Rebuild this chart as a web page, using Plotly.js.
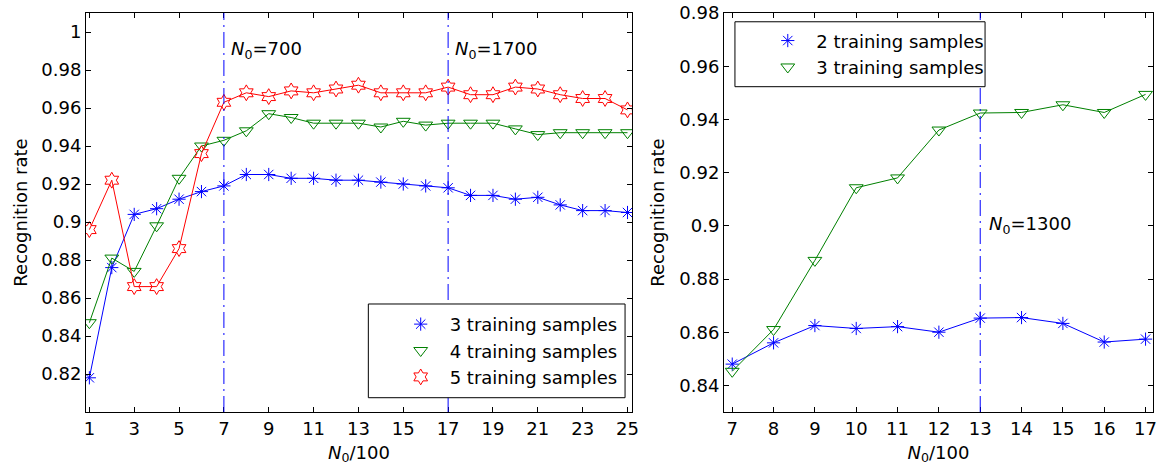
<!DOCTYPE html>
<html>
<head>
<meta charset="utf-8">
<script src="https://cdn.plot.ly/plotly-3.0.1.min.js"></script>
<style>html,body{margin:0;padding:0;background:#fff;}#chart{width:1159px;height:475px;}</style>
</head>
<body>
<div id="chart"></div>
<script>
// Left panel data
var xLeft = [1,2,3,4,5,6,7,8,9,10,11,12,13,14,15,16,17,18,19,20,21,22,23,24,25];
var left3 = [0.818,0.876,0.904,0.907,0.912,0.916,0.919,0.925,0.925,0.923,0.923,0.922,0.922,0.921,0.920,0.919,0.918,0.914,0.914,0.912,0.913,0.909,0.906,0.906,0.905];
var left4 = [0.847,0.881,0.874,0.898,0.923,0.940,0.943,0.948,0.957,0.955,0.952,0.952,0.952,0.950,0.953,0.951,0.952,0.952,0.952,0.949,0.946,0.947,0.947,0.947,0.947];
var left5 = [0.896,0.922,0.866,0.866,0.886,0.936,0.963,0.968,0.966,0.969,0.968,0.970,0.972,0.968,0.968,0.968,0.971,0.967,0.967,0.971,0.970,0.967,0.965,0.965,0.959];
var leftNames = ['3 training samples','4 training samples','5 training samples'];
var leftMarks = [7, 17];
var leftLabels = ['700','1700'];
var leftXTicks = [1,3,5,7,9,11,13,15,17,19,21,23,25];
var leftYTicks = [0.82,0.84,0.86,0.88,0.9,0.92,0.94,0.96,0.98,1];

// Right panel data
var xRight = [7,8,9,10,11,12,13,14,15,16,17];
var right2 = [0.848,0.856,0.8625,0.8614,0.8621,0.860,0.8653,0.8655,0.8633,0.8563,0.8574];
var right3 = [0.8453,0.861,0.887,0.9143,0.918,0.936,0.9424,0.9426,0.9455,0.9426,0.9494];
var rightNames = ['2 training samples','3 training samples'];
var rightMarks = [13];
var rightLabels = ['1300'];
var rightXTicks = [7,8,9,10,11,12,13,14,15,16,17];
var rightYTicks = [0.84,0.86,0.88,0.9,0.92,0.94,0.96,0.98];

var BLUE = 'rgb(0,0,255)', GREEN = 'rgb(0,128,0)', RED = 'rgb(255,0,0)';
var FONT = 'DejaVu Sans, Arial, sans-serif';
var DASHDOT = '16px,5px,2px,5px';

function series(x, y, name, color, symbol, size, xa, ya, legend) {
  return [
    {x: x, y: y, xaxis: xa, yaxis: ya, mode: 'lines', type: 'scatter',
     line: {color: color, width: 1}, showlegend: false, hoverinfo: 'skip'},
    {x: x, y: y, xaxis: xa, yaxis: ya, mode: 'markers', type: 'scatter', name: name,
     marker: {symbol: symbol, size: size, color: color, line: {color: color, width: 1}},
     showlegend: true, legend: legend}
  ];
}

var data = [].concat(
  series(xLeft, left3, leftNames[0], BLUE, 'asterisk-open', 11, 'x', 'y', 'legend'),
  series(xLeft, left4, leftNames[1], GREEN, 'triangle-down-open', 12, 'x', 'y', 'legend'),
  series(xLeft, left5, leftNames[2], RED, 'hexagram-open', 12, 'x', 'y', 'legend'),
  series(xRight, right2, rightNames[0], BLUE, 'asterisk-open', 11, 'x2', 'y2', 'legend2'),
  series(xRight, right3, rightNames[1], GREEN, 'triangle-down-open', 12, 'x2', 'y2', 'legend2')
);

var shapes = [];
var annotations = [];
leftMarks.forEach(function(m, i){
  shapes.push({type:'line', xref:'x', yref:'y domain', x0:m, x1:m, y0:0, y1:1,
    line:{color:BLUE, width:1, dash:DASHDOT}, layer:'above'});
  annotations.push({xref:'x', yref:'y', x:m, y:0.9905, xanchor:'left', yanchor:'middle', xshift:5,
    text:'<i>N</i><sub>0</sub>=' + leftLabels[i], showarrow:false, font:{family:FONT, size:18, color:'#000'}});
});
rightMarks.forEach(function(m, i){
  shapes.push({type:'line', xref:'x2', yref:'y2 domain', x0:m, x1:m, y0:0, y1:1,
    line:{color:BLUE, width:1, dash:DASHDOT}, layer:'above'});
  annotations.push({xref:'x2', yref:'y2', x:m, y:0.9003, xanchor:'left', yanchor:'middle', xshift:7,
    text:'<i>N</i><sub>0</sub>=' + rightLabels[i], showarrow:false, font:{family:FONT, size:18, color:'#000'}});
});
// legend boxes
shapes.push({type:'rect', xref:'paper', yref:'paper', x0:0.2646, x1:0.5052, y0:0.0358, y1:0.2707,
  line:{color:'#000', width:1}, fillcolor:'#fff', layer:'above'});
shapes.push({type:'rect', xref:'paper', yref:'paper', x0:0.6082, x1:0.8426, y0:0.8153, y1:0.978,
  line:{color:'#000', width:1}, fillcolor:'#fff', layer:'above'});

function xax(domain, range, ticks) {
  return {domain: domain, range: range, tickvals: ticks, ticktext: ticks.map(String),
    ticks: 'inside', ticklen: 5, tickcolor: '#000', showline: true, linecolor: '#000', linewidth: 1,
    mirror: 'ticks', showgrid: false, zeroline: false, tickfont: {family: FONT, size: 18, color: '#000'},
    title: {text: '<i>N</i><sub>0</sub>/100', font: {family: FONT, size: 18, color: '#000'}, standoff: 8}};
}
function yax(anchor, range, ticks) {
  return {anchor: anchor, domain: [0, 1], range: range, tickvals: ticks, ticktext: ticks.map(String),
    ticks: 'inside', ticklen: 5, tickcolor: '#000', showline: true, linecolor: '#000', linewidth: 1,
    mirror: 'ticks', showgrid: false, zeroline: false, tickfont: {family: FONT, size: 18, color: '#000'},
    title: {text: 'Recognition rate', font: {family: FONT, size: 18, color: '#000'}, standoff: 9}};
}

var layout = {
  width: 1159, height: 475,
  margin: {l: 86, r: 6, t: 13, b: 63},
  paper_bgcolor: '#fff', plot_bgcolor: '#fff',
  font: {family: FONT, size: 18, color: '#000'},
  xaxis: xax([0, 0.5117], [0.85, 25.2], leftXTicks),
  yaxis: yax('x', [0.80, 1.01], leftYTicks),
  xaxis2: Object.assign(xax([0.5979, 1], [6.8, 17.18], rightXTicks), {anchor: 'y2'}),
  yaxis2: yax('x2', [0.83, 0.98], rightYTicks),
  legend: {x: 0.2865, y: 0.1531, xanchor: 'left', yanchor: 'middle', bgcolor: 'rgba(0,0,0,0)',
    borderwidth: 0, itemwidth: 48, font: {family: FONT, size: 18, color: '#000'}},
  legend2: {x: 0.631, y: 0.8976, xanchor: 'left', yanchor: 'middle', bgcolor: 'rgba(0,0,0,0)',
    borderwidth: 0, itemwidth: 47, font: {family: FONT, size: 18, color: '#000'}},
  shapes: shapes,
  annotations: annotations,
  showlegend: true
};

Plotly.newPlot('chart', data, layout, {displayModeBar: false, staticPlot: true});
</script>
</body>
</html>
